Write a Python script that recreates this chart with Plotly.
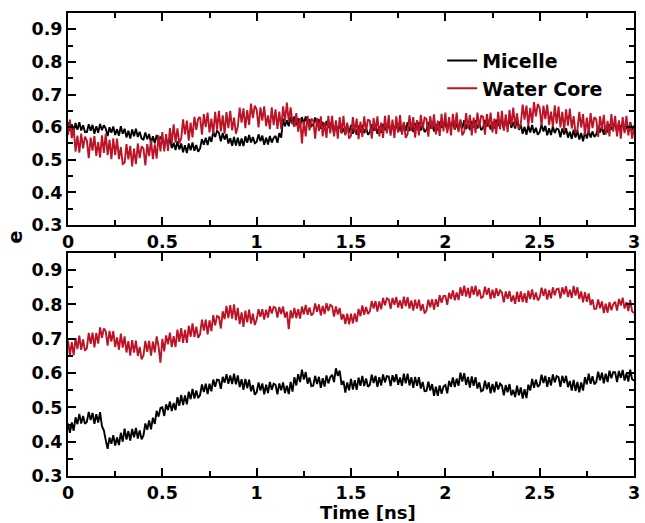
import plotly.graph_objects as go

# ---- data, time step 0.01 ns ----
time_ns = [round(i * 0.01, 2) for i in range(301)]

micelle_top = [
    0.615,0.588,0.609,0.585,0.613,0.592,0.615,0.590,0.606,0.585,
    0.585,0.609,0.589,0.607,0.580,0.603,0.583,0.610,0.591,0.606,
    0.596,0.573,0.600,0.583,0.602,0.576,0.594,0.574,0.603,0.580,
    0.595,0.568,0.589,0.565,0.593,0.572,0.595,0.570,0.586,0.565,
    0.562,0.584,0.563,0.579,0.551,0.572,0.551,0.576,0.556,0.569,
    0.566,0.541,0.566,0.547,0.564,0.536,0.552,0.530,0.557,0.532,
    0.550,0.523,0.545,0.521,0.550,0.529,0.553,0.528,0.545,0.525,
    0.535,0.563,0.546,0.568,0.545,0.571,0.555,0.586,0.570,0.589,
    0.583,0.557,0.582,0.562,0.579,0.550,0.566,0.543,0.570,0.544,
    0.568,0.542,0.565,0.542,0.572,0.552,0.576,0.553,0.570,0.551,
    0.555,0.578,0.557,0.574,0.546,0.568,0.547,0.573,0.553,0.567,
    0.573,0.552,0.582,0.568,0.626,0.603,0.621,0.603,0.632,0.610,
    0.633,0.606,0.627,0.603,0.631,0.610,0.633,0.608,0.624,0.603,
    0.608,0.630,0.608,0.624,0.595,0.616,0.594,0.619,0.598,0.611,
    0.606,0.582,0.608,0.592,0.609,0.582,0.597,0.578,0.606,0.582,
    0.607,0.580,0.601,0.577,0.605,0.584,0.607,0.582,0.598,0.577,
    0.585,0.609,0.589,0.607,0.580,0.603,0.583,0.610,0.591,0.606,
    0.605,0.582,0.609,0.592,0.611,0.585,0.603,0.583,0.612,0.589,
    0.615,0.588,0.609,0.585,0.613,0.592,0.615,0.590,0.606,0.585,
    0.592,0.616,0.596,0.614,0.587,0.610,0.590,0.617,0.598,0.613,
    0.613,0.590,0.617,0.600,0.619,0.593,0.611,0.591,0.620,0.597,
    0.621,0.594,0.615,0.591,0.619,0.598,0.621,0.596,0.612,0.591,
    0.598,0.622,0.602,0.620,0.593,0.616,0.596,0.623,0.604,0.619,
    0.618,0.595,0.622,0.605,0.624,0.598,0.616,0.596,0.625,0.592,
    0.607,0.580,0.601,0.577,0.605,0.584,0.607,0.582,0.598,0.577,
    0.585,0.608,0.587,0.604,0.575,0.597,0.576,0.602,0.582,0.596,
    0.593,0.569,0.596,0.578,0.597,0.568,0.586,0.564,0.592,0.568,
    0.590,0.562,0.582,0.557,0.585,0.565,0.590,0.568,0.587,0.570,
    0.578,0.603,0.584,0.603,0.577,0.602,0.584,0.609,0.592,0.609,
    0.608,0.585,0.612,0.595,0.614,0.588,0.606,0.586,0.615,0.592,0.605,
]

water_top = [
    0.576,0.623,0.566,0.598,0.525,0.574,0.522,0.580,0.535,0.571,
    0.559,0.505,0.568,0.528,0.573,0.512,0.554,0.507,0.575,0.521,
    0.580,0.514,0.561,0.502,0.566,0.514,0.565,0.502,0.539,0.487,
    0.491,0.548,0.501,0.543,0.480,0.534,0.487,0.550,0.505,0.541,
    0.534,0.483,0.548,0.511,0.560,0.502,0.547,0.504,0.575,0.526,
    0.585,0.526,0.579,0.527,0.597,0.552,0.609,0.553,0.596,0.550,
    0.566,0.624,0.578,0.620,0.559,0.614,0.569,0.632,0.592,0.626,
    0.631,0.577,0.640,0.600,0.645,0.584,0.626,0.579,0.647,0.593,
    0.650,0.587,0.636,0.580,0.646,0.597,0.650,0.590,0.629,0.580,
    0.601,0.660,0.614,0.658,0.597,0.652,0.607,0.672,0.628,0.666,
    0.654,0.599,0.661,0.620,0.664,0.603,0.636,0.594,0.661,0.606,
    0.655,0.595,0.648,0.595,0.664,0.619,0.675,0.618,0.661,0.615,
    0.601,0.643,0.586,0.628,0.550,0.619,0.572,0.635,0.590,0.626,
    0.619,0.565,0.628,0.588,0.633,0.572,0.614,0.567,0.635,0.581,
    0.635,0.572,0.621,0.565,0.631,0.582,0.635,0.575,0.614,0.565,
    0.574,0.631,0.584,0.626,0.563,0.617,0.570,0.633,0.588,0.624,
    0.619,0.565,0.628,0.588,0.633,0.572,0.614,0.567,0.635,0.581,
    0.637,0.574,0.623,0.567,0.633,0.584,0.637,0.577,0.616,0.567,
    0.579,0.636,0.589,0.631,0.568,0.622,0.575,0.638,0.593,0.629,
    0.625,0.571,0.634,0.594,0.639,0.578,0.620,0.573,0.641,0.587,
    0.645,0.582,0.631,0.575,0.641,0.592,0.645,0.585,0.624,0.575,
    0.586,0.643,0.596,0.638,0.575,0.629,0.582,0.645,0.600,0.636,
    0.631,0.577,0.640,0.600,0.645,0.584,0.626,0.579,0.647,0.593,
    0.650,0.589,0.639,0.585,0.653,0.605,0.660,0.602,0.642,0.595,
    0.611,0.669,0.623,0.666,0.604,0.659,0.613,0.677,0.633,0.671,
    0.659,0.604,0.666,0.625,0.669,0.607,0.648,0.600,0.667,0.611,
    0.663,0.599,0.647,0.590,0.655,0.605,0.657,0.596,0.634,0.583,
    0.591,0.647,0.599,0.640,0.576,0.629,0.581,0.643,0.597,0.631,
    0.624,0.570,0.633,0.593,0.638,0.577,0.619,0.572,0.640,0.586,
    0.635,0.572,0.621,0.565,0.631,0.582,0.635,0.575,0.614,0.565,0.600,
]

micelle_bottom = [
    0.453,0.426,0.456,0.432,0.471,0.451,0.481,0.453,0.475,0.452,
    0.458,0.487,0.463,0.484,0.452,0.480,0.456,0.486,0.445,0.433,
    0.405,0.379,0.412,0.394,0.419,0.389,0.412,0.390,0.426,0.400,
    0.438,0.406,0.431,0.403,0.437,0.413,0.440,0.409,0.433,0.407,
    0.418,0.453,0.435,0.462,0.436,0.470,0.452,0.490,0.473,0.498,
    0.500,0.475,0.509,0.492,0.517,0.489,0.513,0.492,0.530,0.505,
    0.536,0.507,0.535,0.509,0.546,0.524,0.554,0.526,0.549,0.527,
    0.536,0.567,0.545,0.569,0.539,0.569,0.547,0.581,0.560,0.581,
    0.580,0.554,0.589,0.572,0.597,0.569,0.593,0.568,0.598,0.567,
    0.593,0.559,0.582,0.551,0.583,0.556,0.581,0.547,0.565,0.537,
    0.544,0.573,0.549,0.570,0.538,0.566,0.542,0.574,0.551,0.569,
    0.566,0.538,0.570,0.550,0.573,0.542,0.563,0.539,0.574,0.546,
    0.588,0.564,0.597,0.574,0.610,0.581,0.603,0.569,0.587,0.562,
    0.563,0.592,0.568,0.589,0.557,0.585,0.561,0.593,0.570,0.588,
    0.595,0.574,0.614,0.592,0.607,0.566,0.577,0.543,0.573,0.550,
    0.583,0.552,0.579,0.551,0.587,0.563,0.592,0.562,0.584,0.560,
    0.566,0.595,0.571,0.592,0.560,0.588,0.564,0.596,0.573,0.591,
    0.590,0.562,0.594,0.574,0.597,0.566,0.587,0.563,0.598,0.570,
    0.598,0.564,0.588,0.557,0.589,0.563,0.588,0.555,0.574,0.547,
    0.548,0.575,0.549,0.568,0.534,0.560,0.534,0.564,0.540,0.561,
    0.565,0.541,0.577,0.560,0.587,0.559,0.584,0.563,0.601,0.575,
    0.600,0.566,0.589,0.558,0.590,0.563,0.588,0.555,0.573,0.547,
    0.550,0.578,0.553,0.573,0.541,0.568,0.544,0.575,0.552,0.569,
    0.563,0.535,0.565,0.544,0.568,0.535,0.551,0.530,0.563,0.535,
    0.558,0.526,0.553,0.527,0.566,0.549,0.583,0.557,0.581,0.560,
    0.566,0.595,0.571,0.592,0.560,0.588,0.564,0.596,0.573,0.591,
    0.588,0.560,0.592,0.571,0.592,0.559,0.577,0.549,0.580,0.548,
    0.574,0.544,0.573,0.549,0.588,0.567,0.598,0.569,0.591,0.567,
    0.574,0.604,0.579,0.601,0.570,0.598,0.574,0.607,0.585,0.603,
    0.602,0.574,0.606,0.586,0.609,0.578,0.599,0.575,0.610,0.582,0.578,
]

water_bottom = [
    0.695,0.652,0.690,0.652,0.702,0.670,0.709,0.668,0.698,0.665,
    0.673,0.717,0.685,0.718,0.675,0.717,0.686,0.733,0.703,0.730,
    0.722,0.680,0.723,0.692,0.722,0.676,0.704,0.668,0.715,0.674,
    0.707,0.660,0.693,0.651,0.696,0.660,0.695,0.650,0.676,0.640,
    0.651,0.694,0.662,0.694,0.651,0.692,0.660,0.707,0.677,0.630,
    0.700,0.663,0.710,0.684,0.718,0.676,0.708,0.676,0.727,0.691,
    0.731,0.688,0.726,0.688,0.738,0.706,0.745,0.705,0.735,0.703,
    0.713,0.756,0.724,0.756,0.713,0.754,0.722,0.769,0.739,0.766,
    0.764,0.730,0.780,0.757,0.796,0.760,0.798,0.759,0.800,0.754,
    0.790,0.743,0.777,0.735,0.782,0.748,0.785,0.744,0.773,0.740,
    0.756,0.786,0.764,0.786,0.756,0.785,0.762,0.795,0.774,0.793,
    0.790,0.762,0.793,0.772,0.794,0.762,0.779,0.728,0.783,0.760,
    0.790,0.760,0.786,0.759,0.794,0.771,0.799,0.770,0.791,0.768,
    0.774,0.803,0.779,0.800,0.768,0.796,0.772,0.804,0.781,0.799,
    0.795,0.765,0.794,0.771,0.790,0.756,0.772,0.743,0.773,0.742,
    0.773,0.745,0.774,0.749,0.787,0.766,0.797,0.770,0.793,0.772,
    0.780,0.810,0.788,0.810,0.779,0.809,0.786,0.819,0.798,0.818,
    0.815,0.787,0.819,0.799,0.822,0.791,0.812,0.788,0.823,0.795,
    0.821,0.788,0.812,0.782,0.814,0.788,0.814,0.782,0.801,0.774,
    0.783,0.814,0.792,0.815,0.785,0.815,0.793,0.827,0.805,0.825,
    0.825,0.799,0.834,0.816,0.841,0.812,0.835,0.813,0.850,0.825,
    0.855,0.823,0.848,0.819,0.853,0.828,0.855,0.824,0.844,0.819,
    0.823,0.852,0.828,0.848,0.816,0.843,0.819,0.847,0.825,0.841,
    0.835,0.806,0.838,0.817,0.839,0.808,0.826,0.802,0.837,0.808,
    0.838,0.807,0.833,0.805,0.840,0.816,0.844,0.814,0.835,0.812,
    0.820,0.849,0.825,0.846,0.814,0.842,0.818,0.850,0.827,0.845,
    0.846,0.818,0.850,0.830,0.853,0.822,0.843,0.819,0.854,0.826,
    0.850,0.816,0.838,0.806,0.836,0.808,0.832,0.798,0.815,0.787,
    0.788,0.815,0.789,0.809,0.775,0.802,0.776,0.807,0.783,0.801,
    0.808,0.782,0.816,0.797,0.820,0.788,0.807,0.781,0.813,0.780,0.775,
]

series_names = ["Micelle", "Water Core"]
x_tick_vals = [0, 0.5, 1, 1.5, 2, 2.5, 3]
x_tick_text = ["0", "0.5", "1", "1.5", "2", "2.5", "3"]
y_tick_vals = [0.3, 0.4, 0.5, 0.6, 0.7, 0.8, 0.9]
y_tick_text = ["0.3", "0.4", "0.5", "0.6", "0.7", "0.8", "0.9"]
y_label = "e"
x_label = "Time [ns]"

BLACK = "#000000"
RED = "#bc1426"
FONT = "DejaVu Sans"
LW = 1.9

fig = go.Figure()
fig.add_trace(go.Scatter(x=time_ns, y=micelle_top, mode="lines", name=series_names[0],
                         line=dict(color=BLACK, width=LW), xaxis="x", yaxis="y"))
fig.add_trace(go.Scatter(x=time_ns, y=water_top, mode="lines", name=series_names[1],
                         line=dict(color=RED, width=LW), xaxis="x", yaxis="y"))
fig.add_trace(go.Scatter(x=time_ns, y=micelle_bottom, mode="lines", showlegend=False,
                         line=dict(color=BLACK, width=LW), xaxis="x2", yaxis="y2"))
fig.add_trace(go.Scatter(x=time_ns, y=water_bottom, mode="lines", showlegend=False,
                         line=dict(color=RED, width=LW), xaxis="x2", yaxis="y2"))

tickfont = dict(family=FONT, size=17.5, color="black", weight="bold")

def xaxis(anchor):
    return dict(range=[0, 3], tickvals=x_tick_vals, ticktext=x_tick_text,
                ticks="inside", ticklen=8, tickwidth=2, tickcolor="black",
                minor=dict(ticks="inside", dtick=0.25, tick0=0, ticklen=5, tickwidth=2, tickcolor="black"),
                showline=True, linewidth=2, linecolor="black", mirror="allticks",
                showgrid=False, zeroline=False, tickfont=tickfont, anchor=anchor)

def yaxis(anchor, domain):
    return dict(range=[0.3, 0.95], tickvals=y_tick_vals, ticktext=y_tick_text,
                ticks="inside", ticklen=8, tickwidth=2, tickcolor="black",
                minor=dict(ticks="inside", dtick=0.05, tick0=0.3, ticklen=5, tickwidth=2, tickcolor="black"),
                showline=True, linewidth=2, linecolor="black", mirror="allticks",
                showgrid=False, zeroline=False, tickfont=tickfont, anchor=anchor,
                domain=domain)

fig.update_layout(
    width=645, height=523,
    margin=dict(l=68, r=5, t=13, b=47),
    paper_bgcolor="white", plot_bgcolor="white",
    xaxis=xaxis("y"),
    yaxis=yaxis("x", [0.542, 1.0]),
    xaxis2=xaxis("y2"),
    yaxis2=yaxis("x2", [0.0, 0.4816]),
    legend=dict(x=0.661, y=0.938, xanchor="left", yanchor="top",
                bgcolor="rgba(0,0,0,0)", borderwidth=0,
                font=dict(family=FONT, size=19, color="black", weight="bold"),
                tracegroupgap=0, itemwidth=30),
    showlegend=True,
    annotations=[
        dict(text=y_label, xref="paper", yref="paper", x=-0.0927, y=0.516,
             xanchor="center", yanchor="middle", showarrow=False, textangle=-90,
             font=dict(family=FONT, size=19, color="black", weight="bold")),
        dict(text=x_label, xref="paper", yref="paper", x=0.53, y=-0.079,
             xanchor="center", yanchor="middle", showarrow=False,
             font=dict(family=FONT, size=18, color="black", weight="bold")),
    ],
)

fig.write_html("out.html", config={"displayModeBar": False},
               post_script="document.body.style.margin='0';")
